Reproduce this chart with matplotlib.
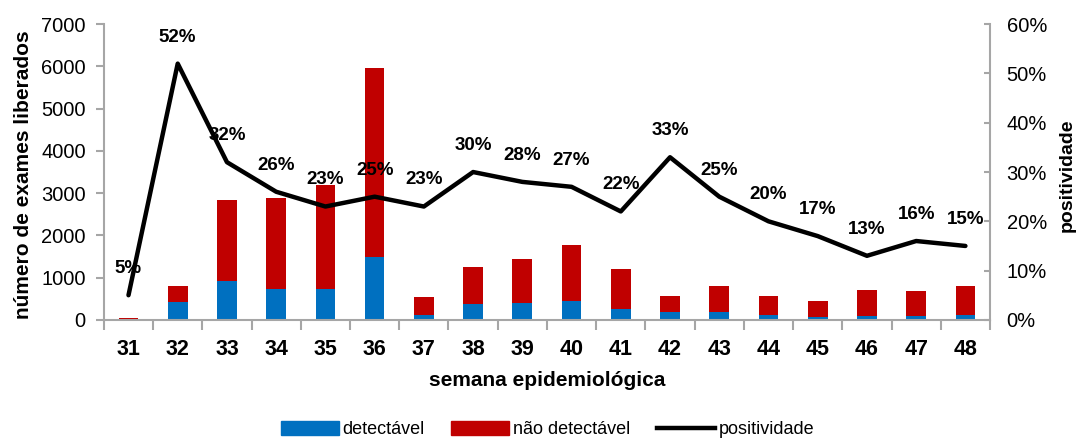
import matplotlib
matplotlib.use("Agg")
import matplotlib.pyplot as plt
import numpy as np
from matplotlib.lines import Line2D
from matplotlib.patches import Patch

plt.rcParams['font.family'] = ['Liberation Sans', 'DejaVu Sans']

semanas = [31, 32, 33, 34, 35, 36, 37, 38, 39, 40, 41, 42, 43, 44, 45, 46, 47, 48]
detectavel = [3, 430, 910, 725, 725, 1480, 110, 370, 395, 450, 260, 195, 195, 110, 65, 85, 85, 110]
total = [40, 805, 2840, 2885, 3190, 5960, 550, 1245, 1435, 1765, 1200, 575, 810, 575, 450, 700, 680, 810]
positividade = [5, 52, 32, 26, 23, 25, 23, 30, 28, 27, 22, 33, 25, 20, 17, 13, 16, 15]

nao_detectavel = [t - d for t, d in zip(total, detectavel)]

BLUE = '#0070C0'
RED = '#C00000'
GREY = '#a6a6a6'

fig = plt.figure(figsize=(10.82, 4.48), dpi=100)
ax = fig.add_axes([0.096, 0.286, 0.819, 0.66])
x = np.arange(len(semanas))

ax.bar(x, detectavel, width=0.4, color=BLUE, zorder=2)
ax.bar(x, nao_detectavel, width=0.4, bottom=detectavel, color=RED, zorder=2)

ax.set_xlim(-0.5, len(semanas) - 0.5)
ax.set_ylim(0, 7000)
ax.set_yticks(range(0, 7001, 1000))
ax.set_xticks(x)
ax.set_xticklabels(semanas, fontsize=15.5, fontweight='bold')
ax.set_xticks(np.arange(-0.5, len(semanas), 1), minor=True)
ax.tick_params(axis='x', which='major', length=0, pad=14)
ax.tick_params(axis='x', which='minor', length=7, color=GREY, width=1.5)
ax.tick_params(axis='y', labelsize=14.5, length=6, color=GREY, width=1.5, pad=7)
ax.set_xlabel('semana epidemiológica', fontsize=15, fontweight='bold')
ax.xaxis.set_label_coords(0.5, -0.172)
ax.set_ylabel('número de exames liberados', fontsize=15, fontweight='bold')
ax.yaxis.set_label_coords(-0.080, 0.49)

for s in ['top', 'right']:
    ax.spines[s].set_visible(False)
for s in ['left', 'bottom']:
    ax.spines[s].set_color(GREY)
    ax.spines[s].set_linewidth(1.5)

ax2 = ax.twinx()
ax2.plot(x, positividade, color='black', lw=3.2, solid_capstyle='round', zorder=3)
ax2.set_ylim(0, 60)
ax2.set_yticks(range(0, 61, 10))
ax2.set_yticklabels([f'{v}%' for v in range(0, 61, 10)])
ax2.tick_params(axis='y', labelsize=14.5, length=4, direction='in', color=GREY, width=1.5, pad=12)
ax2.set_ylabel('positividade', fontsize=14, fontweight='bold')
ax2.yaxis.set_label_coords(1.078, 0.49)
for s in ['top', 'left', 'bottom']:
    ax2.spines[s].set_visible(False)
ax2.spines['right'].set_color(GREY)
ax2.spines['right'].set_linewidth(1.5)

for xi, p in zip(x, positividade):
    ax2.annotate(f'{p}%', (xi, p), xytext=(0, 13), textcoords='offset points',
                 ha='center', va='bottom', fontsize=13.5, fontweight='bold')

handles = [Patch(color=BLUE, label='detectável'),
           Patch(color=RED, label='não detectável'),
           Line2D([], [], color='black', lw=3.2, label='positividade')]
fig.legend(handles=handles, loc='lower center', bbox_to_anchor=(0.506, -0.015), ncol=3,
           frameon=False, fontsize=13, handlelength=3.2, handleheight=0.8,
           handletextpad=0.2, columnspacing=1.5)

fig.savefig('out.png', dpi=100)
